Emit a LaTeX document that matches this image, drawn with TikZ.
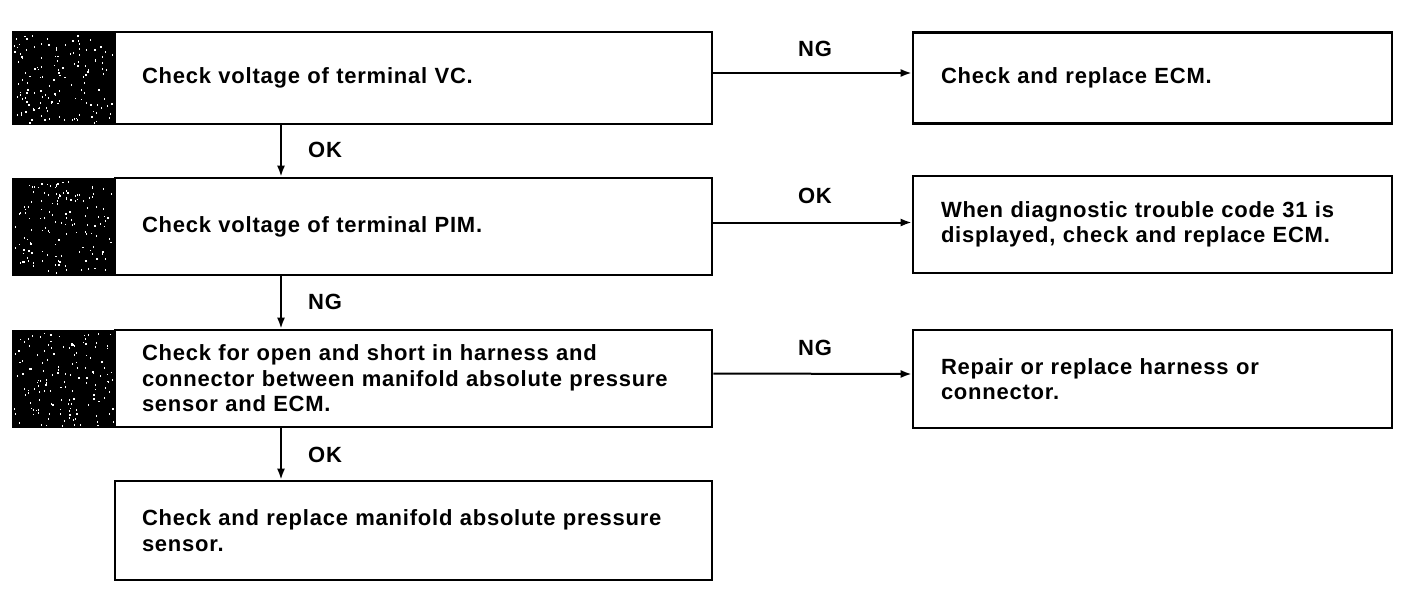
\documentclass[tikz,border=0pt]{standalone}
\usepackage{fontspec}
\setmainfont{Liberation Sans}[LetterSpace=3.5]
\usetikzlibrary{arrows.meta}
\begin{document}
\begin{tikzpicture}[x=1pt,y=-1pt,
  every node/.style={font=\fontsize{22}{25.5}\selectfont\bfseries},
  mainbox/.style={draw,line width=2.6pt,minimum width=597pt,align=left,text width=543pt,inner xsep=27pt,inner ysep=0pt},
  sidebox/.style={draw,line width=2.6pt,minimum width=479pt,align=left,text width=423pt,inner xsep=28pt,inner ysep=0pt},
  darkblock/.style={fill=black,draw=black,line width=1pt,minimum width=103pt,inner sep=0pt},
  arr/.style={line width=2pt,-{Latex[length=11pt,width=8pt]}},
  lbl/.style={inner sep=0pt}]
\useasboundingbox (0,0) rectangle (1408,594);
\fill[white] (0,0) rectangle (1408,594);
% main boxes
\node[mainbox,minimum height=92pt] (b1) at (413.5,78) {Check voltage of terminal VC.};
\node[mainbox,minimum height=97pt] (b2) at (413.5,226.5) {Check voltage of terminal PIM.};
\node[mainbox,minimum height=97pt] (b3) at (413.5,378.5) {Check for open and short in harness and\\connector between manifold absolute pressure\\sensor and ECM.};
\node[mainbox,minimum height=99pt] (b4) at (413.5,530.5) {Check and replace manifold absolute pressure\\sensor.};
% dark blocks
\node[darkblock,minimum height=92pt] (d1) at (63.5,78) {};
\node[darkblock,minimum height=97pt] (d2) at (63.5,226.5) {};
\node[darkblock,minimum height=97pt] (d3) at (63.5,378.5) {};
\pgfmathsetseed{7}
\foreach \yc/\hh in {78/92,226.5/97,378.5/97}{
  \foreach \k in {1,...,140}{
    \pgfmathsetmacro{\px}{14+99*rnd}
    \pgfmathsetmacro{\py}{\yc-\hh/2+2+(\hh-4)*rnd}
    \fill[white] (\px,\py) rectangle ++(1.2,1.8);
  }
}
% side boxes
\node[sidebox,minimum height=91pt] (r1) at (1152.5,78) {Check and replace ECM.};
\node[sidebox,minimum height=97pt] (r2) at (1152.5,224.5) {When diagnostic trouble code 31 is\\displayed, check and replace ECM.};
\node[sidebox,minimum height=98pt] (r3) at (1152.5,379) {Repair or replace harness or\\connector.};
% vertical connectors
\coordinate (vx) at (281,0);
\draw[arr] (b1.south -| vx) -- (b2.north -| vx);
\draw[arr] (b2.south -| vx) -- (b3.north -| vx);
\draw[arr] (b3.south -| vx) -- (b4.north -| vx);
% horizontal connectors
\draw[arr] ([yshift=5pt]b1.east) -- ([yshift=5pt]r1.west);
\draw[arr] ([yshift=4pt]b2.east) -- ([yshift=2pt]r2.west);
\draw[arr] ([yshift=5pt]b3.east) -- ([yshift=5pt]r3.west);
% labels
\node[lbl,anchor=west] (l1) at (308,150) {OK};
\node[lbl,anchor=west] (l2) at (308,302) {NG};
\node[lbl,anchor=west] (l3) at (308,455) {OK};
\node[lbl] (l4) at (815,49) {NG};
\node[lbl] (l5) at (815,196) {OK};
\node[lbl] (l6) at (815,348) {NG};
\end{tikzpicture}
\end{document}
